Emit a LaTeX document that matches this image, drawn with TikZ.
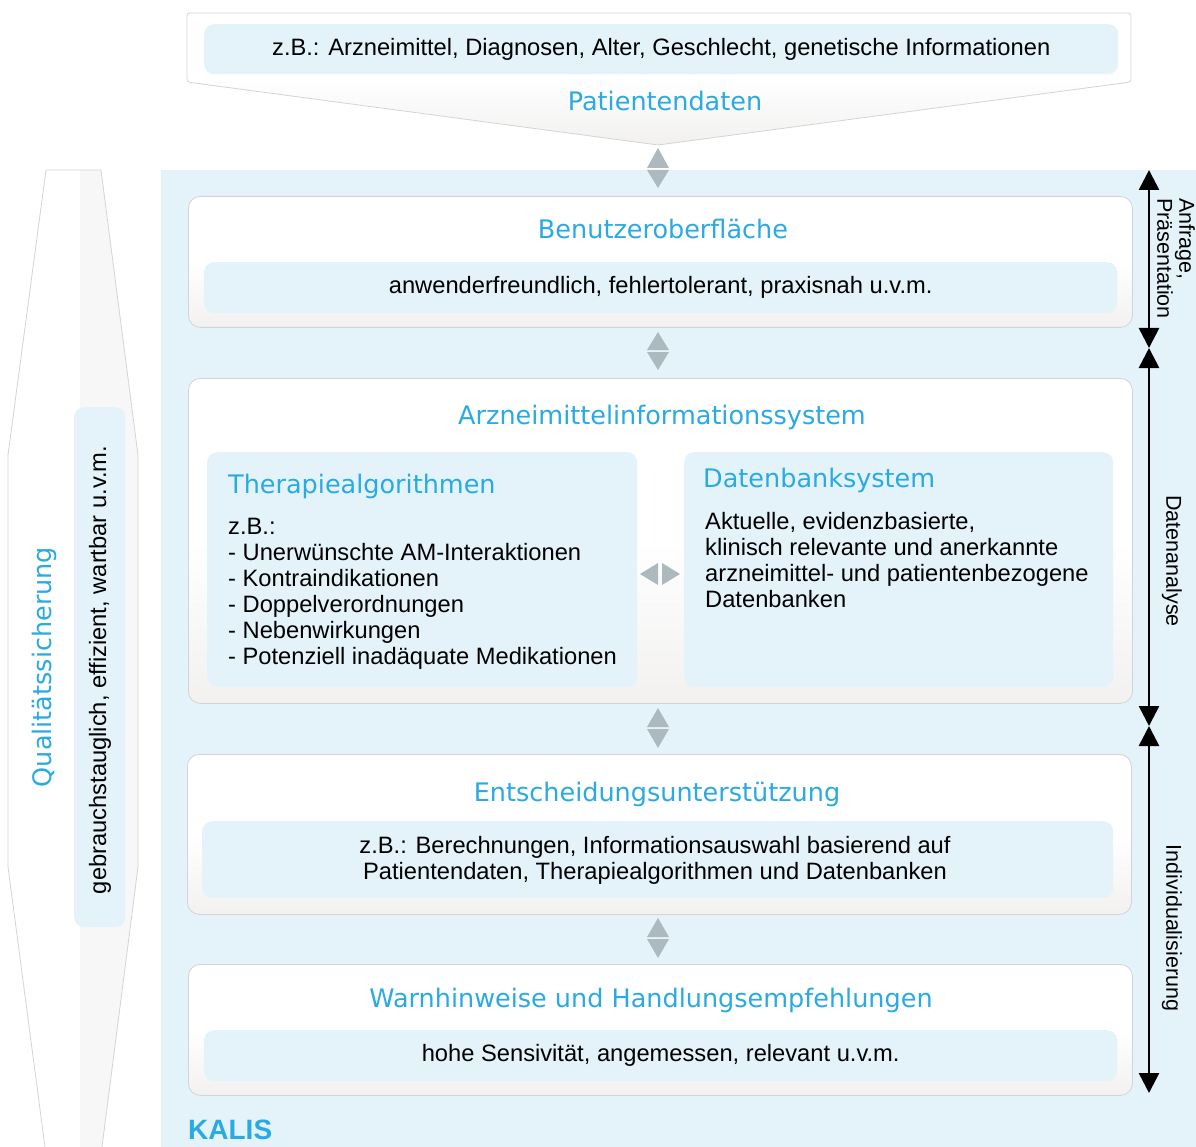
\documentclass[tikz,border=0pt]{standalone}
\usepackage{fontspec}
\setmainfont{Liberation Sans}
\newfontfamily\headfont{DejaVu Sans}
\usetikzlibrary{arrows.meta}
\definecolor{kblue}{RGB}{41,170,226}
\definecolor{lightbg}{RGB}{228,243,250}
\definecolor{boxborder}{RGB}{212,212,212}
\definecolor{arrowgrey}{RGB}{172,186,192}
\definecolor{boxbottom}{RGB}{242,241,240}
\definecolor{hexright}{RGB}{247,247,247}
\tikzset{
  mainbox/.style={draw=boxborder, line width=0.8pt, rounded corners=12pt,
    top color=white, bottom color=boxbottom, middle color=white, inner sep=0pt, anchor=north west},
  innerbox/.style={fill=lightbg, rounded corners=10pt, inner sep=0pt, anchor=north west},
  head/.style={font=\headfont\fontsize{25.5}{30}\selectfont, text=kblue, inner sep=0pt},
  body/.style={font=\fontsize{23.7}{26}\selectfont, inner sep=0pt},
  side/.style={font=\fontsize{21.5}{22}\selectfont, inner sep=0pt},
  greyarr/.style={fill=arrowgrey},
  blackarr/.style={line width=2.6pt, {Triangle[length=20pt,width=20pt]}-{Triangle[length=20pt,width=20pt]}}
}
\begin{document}
\begin{tikzpicture}[x=1pt,y=-1pt]
\useasboundingbox (0,0) rectangle (1196,1147);
% KALIS background
\fill[lightbg] (161,170) rectangle (1196,1147);
\node[font=\bfseries\fontsize{28}{30}\selectfont, text=kblue, inner sep=0pt, anchor=base west] (kalis) at (188,1139) {KALIS};
% Patient data pentagon
\path[draw=boxborder, line width=0.8pt, top color=white, bottom color=boxbottom, middle color=white, rounded corners=3pt]
  (187,82) -- (187,13) -- (1131,13) -- (1131,82) -- (658,145) -- cycle;
\node[innerbox, minimum width=914, minimum height=50] (pdin) at (204,24) {};
\node[body] (pdtext) at (pdin.center) {z.B.: Arzneimittel, Diagnosen, Alter, Geschlecht, genetische Informationen};
\node[head] (pd) at (665,101) {Patientendaten};
% Quality hexagon
\fill[white] (46,170) -- (101,170) -- (138,455) -- (138,867) -- (102,1147) -- (45,1147) -- (8,867) -- (8,455) -- cycle;
\begin{scope}
  \clip (46,170) -- (101,170) -- (138,455) -- (138,867) -- (102,1147) -- (45,1147) -- (8,867) -- (8,455) -- cycle;
  \fill[hexright] (80,165) rectangle (140,1147);
\end{scope}
\draw[boxborder, line width=0.8pt] (45,1147) -- (8,867) -- (8,455) -- (46,170) -- (101,170) -- (138,455) -- (138,867) -- (102,1147);
\node[innerbox, minimum width=51, minimum height=520] (qin) at (74,407) {};
\node[body, rotate=90] (qtext) at (100,670) {gebrauchstauglich, effizient, wartbar u.v.m.};
\node[head, rotate=90] (qs) at (44,667) {Qualitätssicherung};
% Box 1
\node[mainbox, minimum width=944, minimum height=131] (ui) at (188,196) {};
\node[head] (uih) at (663,229) {Benutzeroberfläche};
\node[innerbox, minimum width=913, minimum height=51] (uiin) at (204,262) {};
\node[body] (uit) at (uiin.center) {anwenderfreundlich, fehlertolerant, praxisnah u.v.m.};
% Box 2
\node[mainbox, minimum width=944, minimum height=325] (ais) at (188,378) {};
\node[head] (aish) at (662,417) {Arzneimittelinformationssystem};
\node[innerbox, minimum width=430, minimum height=235] (tha) at (207,452) {};
\node[head, anchor=west] (thah) at (228,486) {Therapiealgorithmen};
\node[body, anchor=north west, align=left] (that) at (228,518) {z.B.:\\- Unerwünschte AM-Interaktionen\\- Kontraindikationen\\- Doppelverordnungen\\- Nebenwirkungen\\- Potenziell inadäquate Medikationen};
\node[innerbox, minimum width=429, minimum height=235] (db) at (684,452) {};
\node[head, anchor=west] (dbh) at (703,480) {Datenbanksystem};
\node[body, anchor=north west, align=left] (dbt) at (705,512) {Aktuelle, evidenzbasierte,\\klinisch relevante und anerkannte\\arzneimittel- und patientenbezogene\\Datenbanken};
% Box 3
\node[mainbox, minimum width=944, minimum height=160] (eu) at (187,754) {};
\node[head] (euh) at (657,794) {Entscheidungsunterstützung};
\node[innerbox, minimum width=911, minimum height=77] (euin) at (202,821) {};
\node[body, align=center] (eut) at (655,860) {z.B.: Berechnungen, Informationsauswahl basierend auf\\ Patientendaten, Therapiealgorithmen und Datenbanken};
% Box 4
\node[mainbox, minimum width=944, minimum height=131] (wh) at (188,964) {};
\node[head] (whh) at (651,1000) {Warnhinweise und Handlungsempfehlungen};
\node[innerbox, minimum width=913, minimum height=51] (whin) at (204,1030) {};
\node[body] (wht) at (whin.center) {hohe Sensivität, angemessen, relevant u.v.m.};
% grey double arrows
\fill[greyarr] (658,148) -- (669,168) -- (647,168) -- cycle;
\fill[greyarr] (647,170) -- (669,170) -- (658,188) -- cycle;
\fill[greyarr] (658,332) -- (669,350) -- (647,350) -- cycle;
\fill[greyarr] (647,352) -- (669,352) -- (658,370) -- cycle;
\fill[greyarr] (658,708) -- (669,727) -- (647,727) -- cycle;
\fill[greyarr] (647,729) -- (669,729) -- (658,748) -- cycle;
\fill[greyarr] (658,918) -- (669,937) -- (647,937) -- cycle;
\fill[greyarr] (647,939) -- (669,939) -- (658,958) -- cycle;
\fill[greyarr] (640,574) -- (658,563) -- (658,585) -- cycle;
\fill[greyarr] (662,563) -- (662,585) -- (680,574) -- cycle;
% right black arrows
\coordinate (r0) at (1149,170);
\coordinate (r1) at (1149,348);
\coordinate (r2) at (1149,726);
\coordinate (r3) at (1149,1093);
\draw[blackarr] (r0) -- (r1);
\draw[blackarr] (r1) -- (r2);
\draw[blackarr] (r2) -- (r3);
\node[side, rotate=-90, align=left, anchor=west] (l1) at (1176,198) {Anfrage,\\Präsentation};
\node[side, rotate=-90] (l2) at (1172,561) {Datenanalyse};
\node[side, rotate=-90] (l3) at (1172,928) {Individualisierung};
\end{tikzpicture}
\end{document}
